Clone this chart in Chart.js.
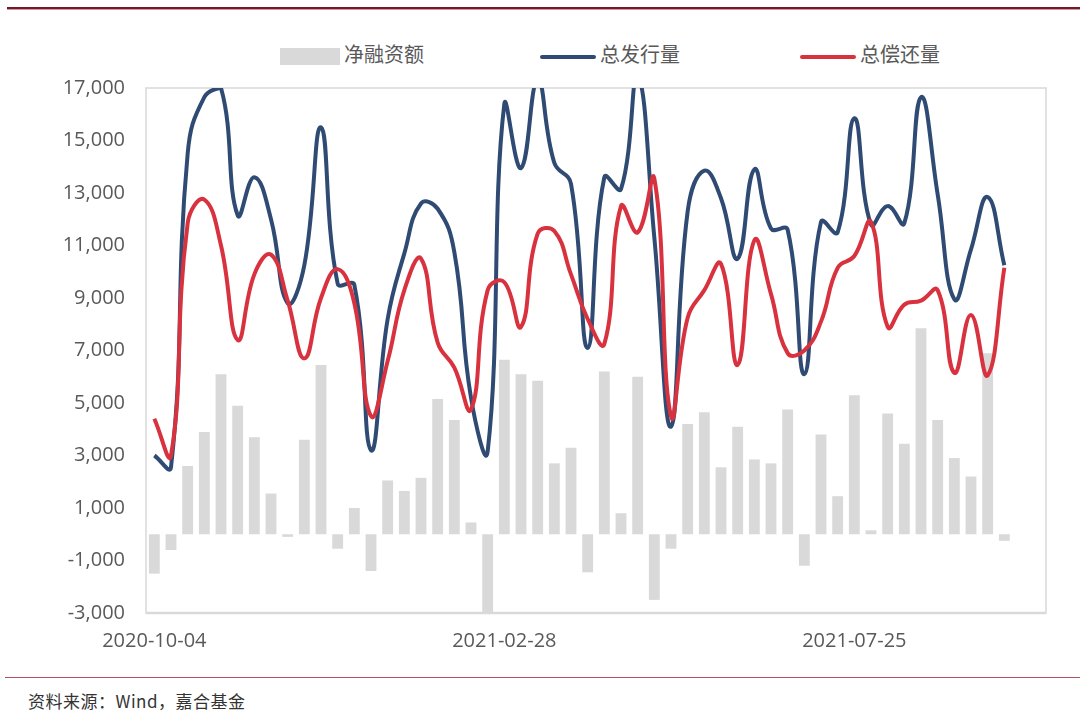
<!DOCTYPE html>
<html>
<head>
<meta charset="utf-8">
<script src="https://cdn.jsdelivr.net/npm/chart.js@4.4.1/dist/chart.umd.min.js"></script>
<style>
    body { margin: 0; background: #fff; }
    #marco { position: relative; width: 1080px; height: 720px; overflow: hidden; }
    #lineaSup { position: absolute; left: 7px; right: 0; top: 7px; height: 2px; background: #6e1c28; border-bottom: 1px solid #d9919b; }
    #lineaInf { position: absolute; left: 5px; right: 0; top: 677px; height: 1px; background: #b5505f; }
    #fuente { position: absolute; left: 28px; top: 688px; font: 17px "Noto Sans CJK SC", sans-serif; color: #333; letter-spacing: 0.5px; }
    #leyenda { position: absolute; top: 41px; left: 0; width: 1080px; height: 26px; font: 20px "Noto Sans CJK SC", sans-serif; color: #595959; }
    .item { position: absolute; top: 0; line-height: 26px; white-space: nowrap; }
    .caja { display: inline-block; vertical-align: middle; margin-right: 4px; }
    canvas { position: absolute; left: 0; top: 0; }
</style>
</head>
<body>
<div id="marco">
    <div id="lineaSup"></div>
    <div id="leyenda">
        <div class="item" style="left:280px"><span class="caja" style="width:60px;height:17px;background:#d9d9d9"></span>净融资额</div>
        <div class="item" style="left:540px"><span class="caja" style="width:56px;height:4px;background:#2f4b73;border-radius:2px"></span>总发行量</div>
        <div class="item" style="left:800px"><span class="caja" style="width:56px;height:4px;background:#d8323f;border-radius:2px"></span>总偿还量</div>
    </div>
    <canvas id="grafico" width="1080" height="670"></canvas>
    <div id="lineaInf"></div>
    <div id="fuente">资料来源：Wind，嘉合基金</div>
</div>
<script>
// fechas semanales (las dos últimas quedan vacías)
var fechas = [
    "2020-10-04", "2020-10-11", "2020-10-18", "2020-10-25", "2020-11-01", "2020-11-08", "2020-11-15",
    "2020-11-22", "2020-11-29", "2020-12-06", "2020-12-13", "2020-12-20", "2020-12-27", "2021-01-03",
    "2021-01-10", "2021-01-17", "2021-01-24", "2021-01-31", "2021-02-07", "2021-02-14", "2021-02-21",
    "2021-02-28", "2021-03-07", "2021-03-14", "2021-03-21", "2021-03-28", "2021-04-04", "2021-04-11",
    "2021-04-18", "2021-04-25", "2021-05-02", "2021-05-09", "2021-05-16", "2021-05-23", "2021-05-30",
    "2021-06-06", "2021-06-13", "2021-06-20", "2021-06-27", "2021-07-04", "2021-07-11", "2021-07-18",
    "2021-07-25", "2021-08-01", "2021-08-08", "2021-08-15", "2021-08-22", "2021-08-29", "2021-09-05",
    "2021-09-12", "2021-09-19", "2021-09-26", "2021-10-03", "2021-10-10"
];
// 净融资额
var neto = [
    -1500, -600, 2600, 3900, 6100, 4900, 3700, 1550, -100, 3600, 6450, -550, 1000, -1400,
    2050, 1650, 2150, 5150, 4350, 450, -3100, 6650, 6100, 5850, 2700, 3300, -1450, 6200,
    800, 6000, -2500, -550, 4200, 4650, 2550, 4100, 2850, 2700, 4750, -1200, 3800, 1450,
    5300, 150, 4600, 3450, 7850, 4350, 2900, 2200, 6900, -250
];
// 总发行量
var emision = [
    3000, 2550, 14500, 16650, 17000, 12150, 13600, 12000, 8800, 10250, 15500, 9550, 9500, 3200,
    8200, 10700, 12600, 12400, 10750, 5200, 3150, 16400, 13950, 17300, 14150, 13350, 7100, 13600,
    13150, 17500, 11300, 4100, 12300, 13850, 12800, 10500, 13900, 11650, 11600, 6100, 11900, 11500,
    15850, 11800, 12500, 11850, 16650, 12950, 8950, 10850, 12850, 10250
];
// 总偿还量
var pago = [
    4400, 3000, 11850, 12750, 11000, 7400, 9900, 10650, 8900, 6700, 9000, 10100, 8800, 4500,
    6600, 9300, 10500, 7300, 6350, 4750, 9300, 9600, 7900, 11450, 11550, 9900, 8200, 7250,
    12500, 11500, 13550, 4500, 8250, 9300, 10300, 6450, 11200, 9150, 6900, 7000, 8100, 10150,
    10600, 11900, 7900, 8750, 8900, 9300, 6150, 8350, 6050, 10150
];
var etiquetasX = ["2020-10-04", "2021-02-28", "2021-07-25"];

var fuenteEjes = { family: "'Open Sans', 'Liberation Sans', sans-serif", size: 20 };

// marco gris alrededor del área del gráfico
var marcoArea = {
    id: 'marcoArea',
    beforeDatasetsDraw: function (chart) {
        var ctx = chart.ctx;
        var a = chart.chartArea;
        ctx.save();
        ctx.strokeStyle = '#d9d9d9';
        ctx.lineWidth = 1.5;
        ctx.strokeRect(a.left, a.top, a.right - a.left, a.bottom - a.top);
        ctx.lineWidth = 2.5;
        ctx.beginPath();
        ctx.moveTo(a.left, a.bottom);
        ctx.lineTo(a.right, a.bottom);
        ctx.stroke();
        ctx.restore();
    }
};

var ctx = document.getElementById('grafico').getContext('2d');
new Chart(ctx, {
    type: 'bar',
    data: {
        labels: fechas,
        datasets: [
            {
                label: '总偿还量',
                type: 'line',
                data: pago,
                borderColor: '#d8323f',
                borderWidth: 4,
                pointRadius: 0,
                tension: 0.45,
                fill: false,
                order: 1
            },
            {
                label: '总发行量',
                type: 'line',
                data: emision,
                borderColor: '#2f4b73',
                borderWidth: 4,
                pointRadius: 0,
                tension: 0.45,
                fill: false,
                order: 2
            },
            {
                label: '净融资额',
                data: neto,
                backgroundColor: '#d9d9d9',
                categoryPercentage: 1,
                barPercentage: 0.65,
                order: 3
            }
        ]
    },
    options: {
        responsive: false,
        animation: false,
        layout: { padding: { left: 0, top: 88, right: 34, bottom: 0 } },
        plugins: {
            legend: { display: false },
            tooltip: { enabled: false }
        },
        scales: {
            x: {
                grid: { display: false, drawTicks: false },
                border: { display: false },
                ticks: {
                    autoSkip: false,
                    maxRotation: 0,
                    padding: 16,
                    color: '#595959',
                    font: fuenteEjes,
                    callback: function (v, i) {
                        var f = fechas[i];
                        return etiquetasX.indexOf(f) >= 0 ? f : '';
                    }
                },
                afterFit: function (s) { s.height = 57; }
            },
            y: {
                min: -3000,
                max: 17000,
                grid: { display: false, drawTicks: false },
                border: { display: false },
                ticks: {
                    stepSize: 2000,
                    padding: 21,
                    color: '#595959',
                    font: fuenteEjes
                },
                afterFit: function (s) { s.width = 146; }
            }
        }
    },
    plugins: [marcoArea]
});
</script>
</body>
</html>
